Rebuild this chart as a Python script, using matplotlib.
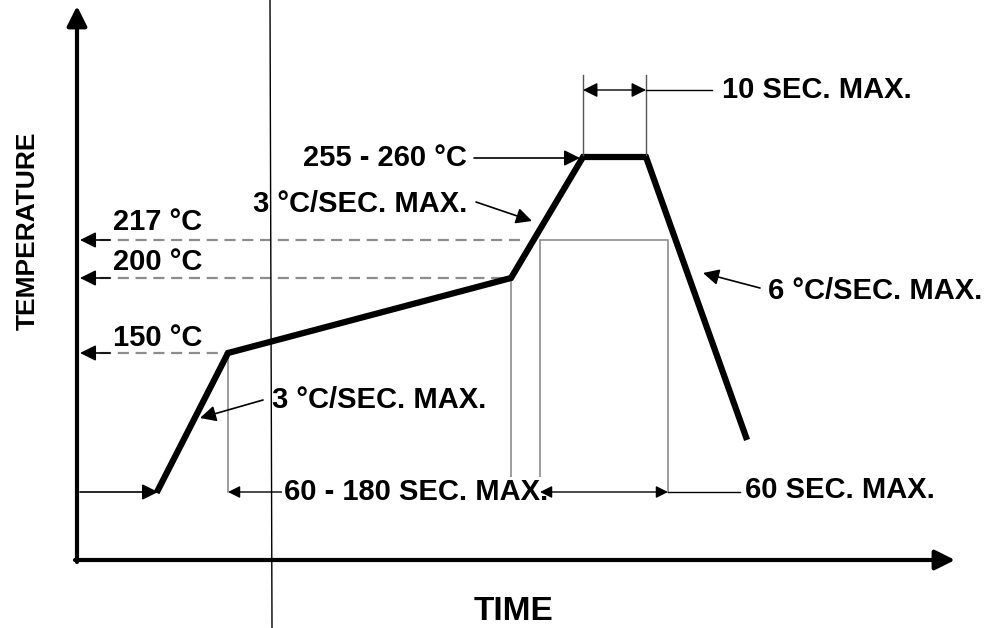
import matplotlib.pyplot as plt

# perfil de reflujo (coordenadas esquemáticas del dibujo, eje y hacia abajo)
perfil_t = [158, 228, 511, 583, 646, 746]
perfil_y = [490, 353, 278, 157, 157, 437]

# niveles de temperatura marcados en el eje
niveles_y = [240, 278, 353]
niveles_fin = [525, 511, 228]
niveles_txt = ['217 °C', '200 °C', '150 °C']
niveles_txt_y = [222, 262, 338]

# tiempos marcados abajo
tiempos_ini = [228, 540]
tiempos_fin = [511, 668]

plt.rcParams['font.family'] = ['Liberation Sans', 'DejaVu Sans']

fig = plt.figure(figsize=(9.91, 6.28), dpi=100)
ax = fig.add_axes([0, 0, 1, 1])
ax.set_xlim(0, 991)
ax.set_ylim(628, 0)
ax.axis('off')

gris = '#8c8c8c'
fs = 21
flecha = dict(arrowstyle='-|>', color='black', lw=1.2, mutation_scale=24,
              shrinkA=0, shrinkB=0)

# ejes con flecha
ax.annotate('', xy=(77, 6), xytext=(77, 562),
            arrowprops=dict(arrowstyle='-|>', color='black', lw=3,
                            mutation_scale=30, shrinkA=0, shrinkB=0))
ax.annotate('', xy=(955, 560), xytext=(75, 560),
            arrowprops=dict(arrowstyle='-|>', color='black', lw=3,
                            mutation_scale=30, shrinkA=0, shrinkB=0))
ax.text(28, 231, 'TEMPERATURE', rotation=90, ha='center', va='center',
        fontsize=19, fontweight='bold')
ax.text(513, 612, 'TIME', ha='center', va='center', fontsize=24,
        fontweight='bold')

# líneas de nivel discontinuas y sus flechas
for y, x_fin, txt, ty in zip(niveles_y, niveles_fin, niveles_txt, niveles_txt_y):
    ax.plot([100, x_fin], [y, y], color=gris, lw=1.6, ls=(0, (5, 3)))
    ax.annotate('', xy=(80, y), xytext=(110, y), arrowprops=flecha)
    ax.text(113, ty, txt, ha='left', va='center', fontsize=fs,
            fontweight='bold')

# líneas verticales de referencia y caja sobre 217 °C
ax.plot([228, 228], [353, 492], color=gris, lw=1.2)
ax.plot([511, 511], [278, 492], color=gris, lw=1.2)
ax.plot([540, 540, 668, 668], [492, 240, 240, 492], color=gris, lw=1.2)

# cotas de tiempo abajo
ax.annotate('', xy=(158, 492), xytext=(80, 492), arrowprops=flecha)
ax.text(416, 492, '60 - 180 SEC. MAX.', ha='center', va='center',
        fontsize=fs, fontweight='bold', zorder=3,
        bbox=dict(facecolor='white', edgecolor='none', pad=1))
for x0, x1, z in zip(tiempos_ini, tiempos_fin, [1, 4]):
    ax.annotate('', xy=(x0, 492), xytext=(x1, 492), zorder=z,
                arrowprops=dict(arrowstyle='<|-|>', color='black', lw=1,
                                mutation_scale=18, shrinkA=0, shrinkB=0))
ax.plot([668, 740], [492, 492], color='black', lw=1)
ax.text(745, 490, '60 SEC. MAX.', ha='left', va='center', fontsize=fs,
        fontweight='bold')

# perfil
ax.plot(perfil_t, perfil_y, color='black', lw=4.5, solid_joinstyle='miter')

# pico: 10 s máx.
ax.plot([583, 583], [75, 155], color='#555555', lw=1)
ax.plot([646, 646], [75, 155], color='#555555', lw=1)
ax.annotate('', xy=(583, 90), xytext=(646, 90),
            arrowprops=dict(arrowstyle='<|-|>', color='black', lw=1,
                            mutation_scale=22, shrinkA=0, shrinkB=0))
ax.plot([646, 712], [90, 90], color='black', lw=1)
ax.text(722, 90, '10 SEC. MAX.', ha='left', va='center', fontsize=fs,
        fontweight='bold')

ax.text(467, 158, '255 - 260 °C', ha='right', va='center', fontsize=fs,
        fontweight='bold')
ax.annotate('', xy=(580, 158), xytext=(474, 158), arrowprops=flecha)

# pendientes
ax.text(253, 204, '3 °C/SEC. MAX.', ha='left', va='center', fontsize=fs,
        fontweight='bold')
ax.annotate('', xy=(532, 221), xytext=(476, 202), arrowprops=flecha)

ax.text(272, 400, '3 °C/SEC. MAX.', ha='left', va='center', fontsize=fs,
        fontweight='bold')
ax.annotate('', xy=(200, 418), xytext=(263, 400), arrowprops=flecha)

ax.text(768, 291, '6 °C/SEC. MAX.', ha='left', va='center', fontsize=fs,
        fontweight='bold')
ax.annotate('', xy=(703, 273), xytext=(760, 288), arrowprops=flecha)

# línea vertical fina que cruza la imagen
ax.plot([270, 272], [0, 628], color='black', lw=1)

fig.savefig('out.png', dpi=100, facecolor='white')
